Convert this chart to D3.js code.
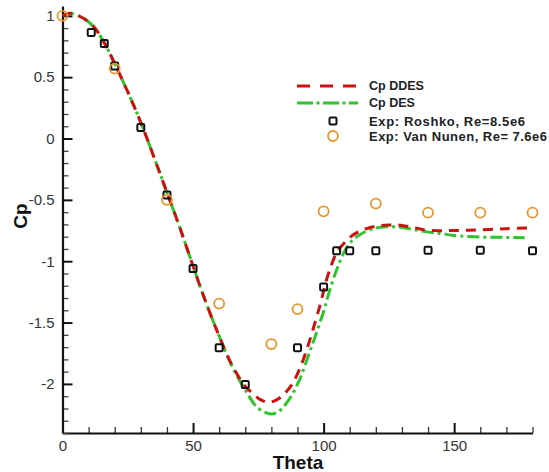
<!DOCTYPE html>
<html><head><meta charset="utf-8">
<script src="https://cdn.jsdelivr.net/npm/d3@7/dist/d3.min.js"></script>
<style>
html,body{margin:0;padding:0;background:#fff;}
svg{display:block;font-family:"Liberation Sans",Arial,sans-serif;}
</style></head>
<body>
<svg id="c" width="549" height="472"></svg>
<script>
// ---- data ----
const ddesTheta = [0,3,8,12,16,20,25,30,35,40,45,50,55,60,65,70,73,76,79,82,85,88,91,94,97,99,101,103,105,108,111,115,120,125,130,135,140,150,160,170,178];
const ddesCp    = [1.0,1.02,0.98,0.91,0.78,0.61,0.38,0.13,-0.15,-0.44,-0.73,-1.04,-1.34,-1.61,-1.85,-2.02,-2.08,-2.13,-2.15,-2.13,-2.08,-2.0,-1.87,-1.69,-1.48,-1.33,-1.16,-1.03,-0.93,-0.85,-0.79,-0.745,-0.715,-0.705,-0.708,-0.728,-0.748,-0.75,-0.744,-0.735,-0.73];
const desTheta  = [0,3,8,12,16,20,25,30,35,40,45,50,55,60,65,70,75,80,83,87,90.5,93,96,100,102,105,108,111,115,119,124,129,134,140,145,150,160,170,177];
const desCp     = [1.0,1.02,0.98,0.91,0.78,0.61,0.38,0.13,-0.15,-0.44,-0.73,-1.04,-1.34,-1.61,-1.86,-2.05,-2.2,-2.245,-2.22,-2.12,-1.98,-1.84,-1.66,-1.41,-1.26,-1.07,-0.92,-0.83,-0.77,-0.735,-0.72,-0.722,-0.74,-0.763,-0.775,-0.79,-0.803,-0.806,-0.808];
const roshkoTheta = [11,16,20,30,40,50,60,70,90,100,105,110,120,140,160,180];
const roshkoCp    = [0.865,0.775,0.59,0.09,-0.46,-1.06,-1.705,-2.005,-1.705,-1.21,-0.915,-0.915,-0.915,-0.91,-0.91,-0.915];
const nunenTheta = [0,20,40,60,80,90,100,120,140,160,180];
const nunenCp    = [1.0,0.57,-0.5,-1.345,-1.675,-1.39,-0.593,-0.53,-0.604,-0.604,-0.604];
const xMajorTicks = [0,50,100,150];
const yMajorTicks = [-2,-1.5,-1,-0.5,0,0.5,1];
const legendLabels = ["Cp DDES","Cp DES","Exp: Roshko, Re=8.5e6","Exp: Van Nunen, Re= 7.6e6"];

// ---- drawing ----
const svg = d3.select("#c");
const x = d3.scaleLinear().domain([0,180]).range([62.5,532.5]);
const y = d3.scaleLinear().domain([-2.4,1.08]).range([433,6]);
const RED = "#cc1111", GREEN = "#2fc42f", ORANGE = "#e8962e";

const xMinor = d3.range(0,181,10).filter(v => v % 50 !== 0);
const yMinor = d3.range(-24,11,1).map(v => v/10).filter(v => Math.abs(v*2 - Math.round(v*2)) > 1e-6);

const gx = svg.append("g").attr("transform","translate(0,433)");
gx.call(d3.axisBottom(x).tickValues(xMinor).tickSize(-6).tickSizeOuter(0).tickFormat(""));
gx.call(g => g.select(".domain").remove());
const gx2 = svg.append("g").attr("transform","translate(0,433)")
  .call(d3.axisBottom(x).tickValues(xMajorTicks).tickSize(-10).tickSizeOuter(0).tickPadding(7).tickFormat(d => String(d)));
gx2.select(".domain").attr("stroke","#111").attr("stroke-width",2.2);
svg.selectAll("g line").attr("stroke","#333").attr("stroke-width",1.3);
gx2.selectAll(".tick line").attr("stroke","#111").attr("stroke-width",2);
gx2.selectAll("text").attr("font-size",15).attr("fill","#333");

const gy = svg.append("g").attr("transform","translate(62.5,0)");
gy.call(d3.axisLeft(y).tickValues(yMinor).tickSize(-6).tickSizeOuter(0).tickFormat(""));
gy.call(g => g.select(".domain").remove());
gy.selectAll(".tick line").attr("stroke","#444").attr("stroke-width",1.3);
const gy2 = svg.append("g").attr("transform","translate(62.5,0)")
  .call(d3.axisLeft(y).tickValues(yMajorTicks).tickSize(-10).tickSizeOuter(0).tickPadding(8).tickFormat(d => String(d)));
gy2.select(".domain").attr("stroke","#111").attr("stroke-width",2.2);
gy2.selectAll(".tick line").attr("stroke","#111").attr("stroke-width",2);
gy2.selectAll("text").attr("font-size",15).attr("fill","#333");

svg.append("text").attr("x",298).attr("y",469).attr("text-anchor","middle")
  .attr("font-size",19).attr("font-weight","bold").attr("fill","#111").text("Theta");
svg.append("text").attr("transform","translate(27,216) rotate(-90)").attr("text-anchor","middle")
  .attr("font-size",19).attr("font-weight","bold").attr("fill","#111").text("Cp");

const line = d3.line().x(d => x(d[0])).y(d => y(d[1])).curve(d3.curveCatmullRom.alpha(0.5));
svg.append("path").datum(desTheta.map((t,i)=>[t,desCp[i]])).attr("d",line)
  .attr("fill","none").attr("stroke",GREEN).attr("stroke-width",3).attr("stroke-dasharray","12,4,3,4");
svg.append("path").datum(ddesTheta.map((t,i)=>[t,ddesCp[i]])).attr("d",line)
  .attr("fill","none").attr("stroke",RED).attr("stroke-width",3).attr("stroke-dasharray","10,7");

svg.append("g").selectAll("rect").data(roshkoTheta.map((t,i)=>[t,roshkoCp[i]])).join("rect")
  .attr("x",d=>x(d[0])-3.5).attr("y",d=>y(d[1])-3.5).attr("width",7).attr("height",7).attr("rx",1.2)
  .attr("fill","none").attr("stroke","#111").attr("stroke-width",2);
svg.append("g").selectAll("circle").data(nunenTheta.map((t,i)=>[t,nunenCp[i]])).join("circle")
  .attr("cx",d=>x(d[0])).attr("cy",d=>y(d[1])).attr("r",5)
  .attr("fill","none").attr("stroke",ORANGE).attr("stroke-width",1.8);

// legend
const lg = svg.append("g");
const ly = [86,103,121,136];
const lw = [null,null,156,178];
lg.append("line").attr("x1",297).attr("x2",358).attr("y1",ly[0]).attr("y2",ly[0])
  .attr("stroke",RED).attr("stroke-width",3).attr("stroke-dasharray","13,10");
lg.append("line").attr("x1",297).attr("x2",358).attr("y1",ly[1]).attr("y2",ly[1])
  .attr("stroke",GREEN).attr("stroke-width",3).attr("stroke-dasharray","16,3.5,3,3.5");
lg.append("rect").attr("x",333-3.5).attr("y",ly[2]-3.5).attr("width",7).attr("height",7).attr("rx",1.2)
  .attr("fill","none").attr("stroke","#111").attr("stroke-width",2);
lg.append("circle").attr("cx",333).attr("cy",ly[3]).attr("r",5)
  .attr("fill","none").attr("stroke",ORANGE).attr("stroke-width",1.8);
lg.selectAll("text.l").data(legendLabels).join("text").attr("class","l")
  .attr("x",369).attr("y",(d,i)=>ly[i]).attr("dy","0.35em")
  .attr("textLength",(d,i)=>lw[i]).attr("lengthAdjust","spacing")
  .attr("font-size",(d,i)=> i < 2 ? 12.5 : 13).attr("font-weight","bold").attr("fill","#222").text(d=>d);
</script>
</body></html>
